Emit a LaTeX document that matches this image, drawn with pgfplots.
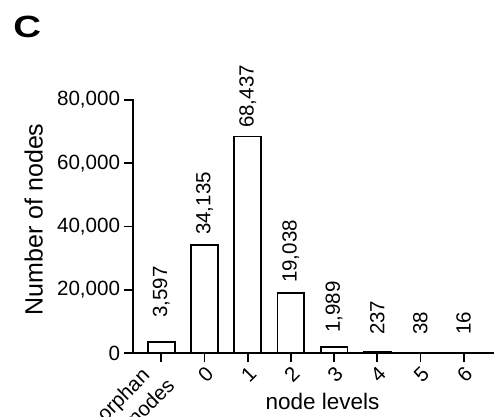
\documentclass[border=0pt]{standalone}
\usepackage{pgfplots}
\pgfplotsset{compat=1.18}
\usepackage{pgfplotstable}
\usepackage{fontspec}
\setmainfont{Liberation Sans}

\pgfplotstableread{
x y
0 3597
1 34135
2 68437
3 19038
4 1989
5 237
6 38
7 16
}\bardata

\pgfplotstableread{
x pos label
0 11067 3,597
1 37312 34,135
2 71146 68,437
3 22134 19,038
4 6419 1,989
5 5692 237
6 5692 38
7 5692 16
}\labeldata

\begin{document}
\begin{tikzpicture}
\useasboundingbox (-133.3pt,-63pt) rectangle (362.7pt,353pt);
\begin{axis}[
  scale only axis,
  width=359.7pt, height=253pt,
  xmin=-0.648, xmax=7.68,
  ymin=0, ymax=80000,
  axis x line*=bottom, axis y line*=left,
  axis line style={line width=1.8pt, line cap=rect},
  tick style={line width=1.8pt, black},
  major tick length=9pt,
  tick align=outside,
  xtick={0,1,2,3,4,5,6,7},
  xticklabels={{},0,1,2,3,4,5,6},
  ytick={0,20000,40000,60000,80000},
  scaled y ticks=false,
  /pgf/number format/assume math mode=true,
  /pgf/number format/1000 sep={,},
  yticklabel style={font=\fontsize{20.6}{24}\selectfont, inner sep=4pt},
  xticklabel style={font=\fontsize{20.6}{24.7}\selectfont, rotate=45, anchor=north east, inner sep=2pt},
  ylabel={Number of nodes},
  ylabel style={font=\fontsize{25}{30}\selectfont, at={(axis description cs:-0.252,0.528)}, anchor=base, rotate=0},
  xlabel={node levels},
  xlabel style={font=\fontsize{22.5}{27}\selectfont, at={(axis description cs:0.526,-0.225)}, anchor=base},
  clip=false,
]
\addplot[ybar, bar width=0.62, fill=white, draw=black, line width=1.8pt] table[x=x,y=y]{\bardata};
\addplot[draw=none, mark=none,
  nodes near coords,
  point meta=explicit symbolic,
  every node near coord/.append style={rotate=90, anchor=west, inner sep=0pt, font=\fontsize{20.5}{24}\selectfont},
] table[x=x, y=pos, meta=label]{\labeldata};
\node[rotate=45, anchor=base east, inner sep=0pt, font=\fontsize{20.6}{24.7}\selectfont]
  at ([shift={(-10.3pt,-23.7pt)}]axis cs:0,0) {orphan};
\node[rotate=45, anchor=base east, inner sep=0pt, font=\fontsize{20.6}{24.7}\selectfont]
  at ([shift={(14.5pt,-34pt)}]axis cs:0,0) {nodes};
\end{axis}
\node[anchor=base west, inner sep=0pt, xscale=1.25, font=\bfseries\fontsize{30.7}{36}\selectfont] at (-120.2pt,316pt) {C};
\end{tikzpicture}
\end{document}
